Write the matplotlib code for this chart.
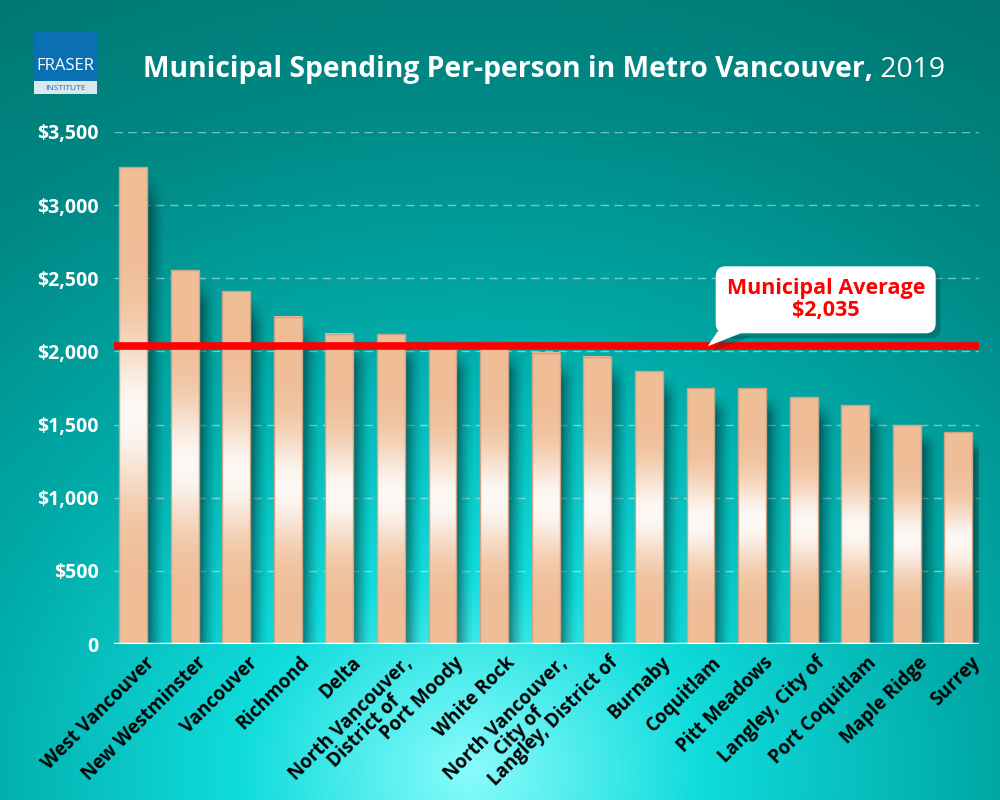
import matplotlib
matplotlib.use("Agg")
import matplotlib.pyplot as plt
import matplotlib.colors as mcolors
from matplotlib.patches import Rectangle, FancyBboxPatch, Polygon
from matplotlib.transforms import Affine2D
import numpy as np

municipalities = ["West Vancouver", "New Westminster", "Vancouver", "Richmond", "Delta",
                  "North Vancouver,\nDistrict of", "Port Moody", "White Rock",
                  "North Vancouver,\nCity of", "Langley, District of", "Burnaby", "Coquitlam",
                  "Pitt Meadows", "Langley, City of", "Port Coquitlam", "Maple Ridge", "Surrey"]
spending = [3260, 2555, 2410, 2237, 2120, 2117, 2057, 2057, 1990, 1962, 1866,
            1748, 1748, 1686, 1632, 1495, 1447]
average = 2035
yticks = [0, 500, 1000, 1500, 2000, 2500, 3000, 3500]
ytick_labels = ["0", "$500", "$1,000", "$1,500", "$2,000", "$2,500", "$3,000", "$3,500"]

FONT = "Open Sans"
fig = plt.figure(figsize=(10, 8), dpi=100)

# pixel coords, origin top-left (for layout pieces)
px = Affine2D().scale(1 / 1000, -1 / 800).translate(0, 1) + fig.transFigure

# background radial gradient
bg = fig.add_axes([0, 0, 1, 1], zorder=-10)
yy, xx = np.mgrid[0:800, 0:1000]
d = np.hypot((xx - 470) / 1.15, (yy - 770)) / 800.0
stops = [0.0, 0.25, 0.55, 0.85, 1.2]
cols = [mcolors.to_rgb(c) for c in ["#8afcfc", "#10dcdc", "#00aaa8", "#008884", "#00716c"]]
img = np.zeros((800, 1000, 3))
for k in range(3):
    img[..., k] = np.interp(d, stops, [c[k] for c in cols])
bg.imshow(img, extent=(0, 1, 0, 1), aspect="auto", origin="upper")
bg.axis("off")

ax = fig.add_axes([0.114, 0.195, 0.865, 0.64])
ax.patch.set_alpha(0)
n = len(spending)
x = np.arange(n)
w = 0.54

# bar gradient (peach with white glow in the middle)
t = np.linspace(0, 1, 300)
glow = np.exp(-((t - 0.48) / 0.17) ** 2) * 0.9
peach = np.array(mcolors.to_rgb("#efbd96"))
grad = peach[None, :] * (1 - glow[:, None]) + glow[:, None]
bar_img = grad[::-1, None, :]

# shadow image (fades to the right and at the top)
sx = np.linspace(0, 1, 60)
sy = np.linspace(0, 1, 200)
sh = np.zeros((200, 60, 4))
sh[..., 3] = 0.5 * (1 - sx[None, :]) ** 1.6 * np.clip((1 - sy[:, None]) / 0.08, 0, 1)

for i, v in enumerate(spending):
    x0 = x[i] - w / 2
    ax.imshow(sh[::-1], extent=(x0 + w, x0 + w + 0.35, 0, v - 40), aspect="auto",
              zorder=2, origin="upper")
    ax.imshow(bar_img, extent=(x0, x0 + w, 0, v), aspect="auto", zorder=3)
    ax.add_patch(Rectangle((x0, 0), w, v, fill=False, edgecolor="#c8a489", lw=1, zorder=4))

ax.set_xlim(-0.37, 16.4)
ax.set_ylim(0, 3500)

ax.set_yticks(yticks)
ax.set_yticklabels(ytick_labels, color="white", fontsize=14, fontweight="bold", family=FONT)
ax.tick_params(axis="y", length=0, pad=11)
ax.set_xticks([])
for s in ax.spines.values():
    s.set_visible(False)
for yv in yticks[1:]:
    ax.axhline(yv, color="#d8efee", alpha=0.55, lw=1, ls=(0, (6, 4)), zorder=1)
ax.axhline(0, color="white", lw=2.5, zorder=6)

for i, name in enumerate(municipalities):
    ax.text(x[i] + 0.22, -60, name, rotation=45, rotation_mode="anchor", ha="right", va="top",
            multialignment="center", fontsize=13.5, fontweight="bold", color="black", family=FONT,
            linespacing=0.95)

# average line
ax.axhline(average, color="#ff0000", lw=5.5, zorder=7)

# callout
tip = ax.transData.transform((11.14, average))
tip_px = (tip[0], 800 - tip[1])
bx0, by0, bw, bh = tip_px[0] + 8, tip_px[1] - 80, 220, 67
for off, fc, a in [((5, 5), "#003c3a", 0.3), ((0, 0), "white", 1.0)]:
    box = FancyBboxPatch((bx0 + off[0], by0 + off[1]), bw, bh,
                         boxstyle="round,pad=0,rounding_size=10", transform=px,
                         fc=fc, ec="none", alpha=a, zorder=20)
    fig.add_artist(box)
    tail = Polygon([(bx0 + 2 + off[0], by0 + bh - 2 + off[1]), (bx0 + 30 + off[0], by0 + bh - 2 + off[1]),
                    (tip_px[0] + off[0], tip_px[1] + off[1])], closed=True, transform=px,
                   fc=fc, ec="none", alpha=a, zorder=20)
    fig.add_artist(tail)
fig.text(bx0 + bw / 2, by0 + bh / 2, "Municipal Average\n$2,035", transform=px,
         ha="center", va="center", color="#ff0000", fontsize=15.5, fontweight="bold",
         family=FONT, linespacing=1.05, zorder=21)

# title
t1 = fig.text(143, 70, "Municipal Spending Per-person in Metro Vancouver,", transform=px,
              ha="left", va="center", color="white", fontsize=20.3, fontweight="bold", family=FONT)
ax.annotate(" 2019", xy=(1, 0.5), xycoords=t1, va="center", ha="left",
            color="white", fontsize=20.3, family=FONT, annotation_clip=False)

# logo
fig.add_artist(Rectangle((34, 32), 63, 62, transform=px, fc="#0b6fb3", ec="none", zorder=20))
fig.add_artist(Rectangle((34, 81), 63, 13, transform=px, fc="#dde7ee", ec="none", zorder=21))
fig.text(65.5, 66, "FRASER", transform=px, ha="center", va="center", color="white",
         fontsize=12, family=FONT, zorder=22)
fig.text(65.5, 88, "INSTITUTE", transform=px, ha="center", va="center", color="#0b6fb3",
         fontsize=6, family=FONT, zorder=22)

fig.savefig("out.png", dpi=100)
